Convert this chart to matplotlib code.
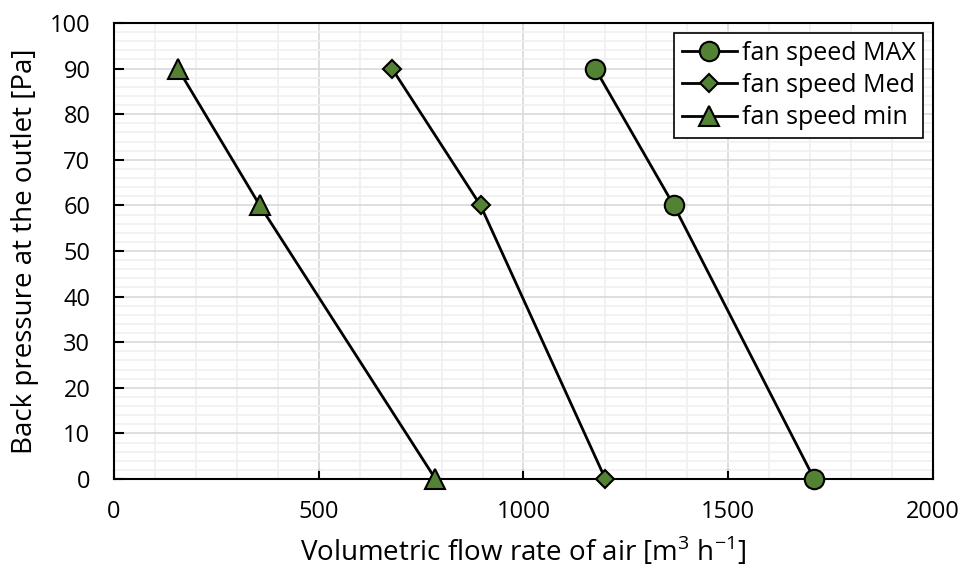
import matplotlib.pyplot as plt
from matplotlib.ticker import MultipleLocator

plt.rcParams['font.family'] = ['Open Sans', 'DejaVu Sans']
plt.rcParams['mathtext.fontset'] = 'custom'
plt.rcParams['mathtext.rm'] = 'Open Sans'

# flow rate [m3/h] vs back pressure [Pa]
pressure = [90, 60, 0]
flow_max = [1175, 1367, 1710]
flow_med = [679, 895, 1200]
flow_min = [156, 356, 785]
labels = ['fan speed MAX', 'fan speed Med', 'fan speed min']

green = '#548235'

fig = plt.figure(figsize=(9.62, 5.74), dpi=100)
ax = fig.add_axes([114/962, 1-479/574, (933-114)/962, (479-23)/574])

ax.plot(flow_max, pressure, '-o', color='black', lw=2, ms=14,
        mfc=green, mec='black', mew=1.5, label=labels[0], zorder=3, clip_on=False)
ax.plot(flow_med, pressure, '-D', color='black', lw=2, ms=9.5,
        mfc=green, mec='black', mew=1.5, label=labels[1], zorder=3, clip_on=False)
ax.plot(flow_min, pressure, '-^', color='black', lw=2, ms=15,
        mfc=green, mec='black', mew=1.5, label=labels[2], zorder=3, clip_on=False)

ax.set_xlim(0, 2000)
ax.set_ylim(0, 100)
ax.xaxis.set_major_locator(MultipleLocator(500))
ax.xaxis.set_minor_locator(MultipleLocator(100))
ax.yaxis.set_major_locator(MultipleLocator(10))
ax.yaxis.set_minor_locator(MultipleLocator(2))
ax.grid(which='major', color='#d9d9d9', lw=1.2)
ax.grid(which='minor', color='#f0f0f0', lw=1.2)
ax.set_axisbelow(True)
ax.tick_params(which='major', direction='in', length=7, width=1.5,
               labelsize=17, pad=15)
ax.tick_params(axis='y', pad=17)
ax.tick_params(which='minor', length=0)
for s in ax.spines.values():
    s.set_linewidth(1.5)

ax.set_xlabel(r'Volumetric flow rate of air [m$^{3}$ h$^{-1}$]', fontsize=20, labelpad=8)
ax.set_ylabel('Back pressure at the outlet [Pa]', fontsize=20, labelpad=8)

leg = ax.legend(loc='upper right', fontsize=18, frameon=True, fancybox=False,
                edgecolor='black', framealpha=1, handlelength=2.2,
                handletextpad=0.2, borderaxespad=0.4, labelspacing=0.3,
                borderpad=0.3)
leg.get_frame().set_linewidth(1.2)

fig.savefig('out.png', dpi=100)
